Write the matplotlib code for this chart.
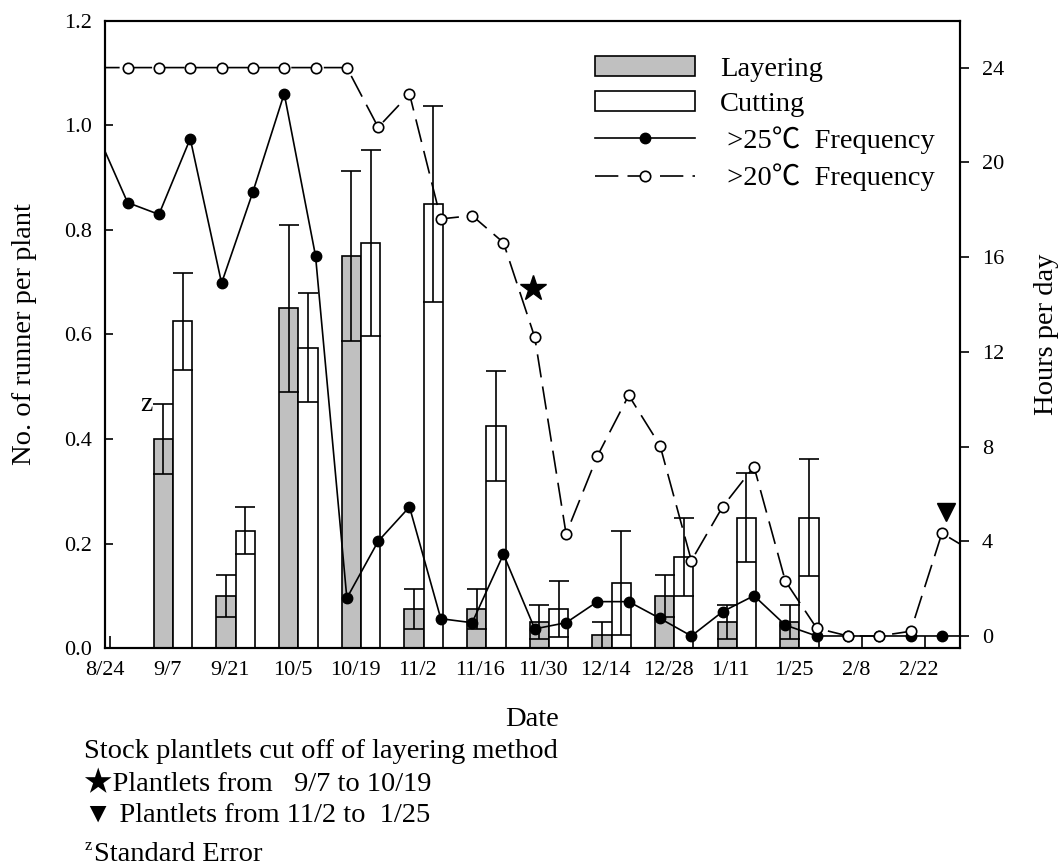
import matplotlib
matplotlib.use('Agg')
import matplotlib.pyplot as plt
from matplotlib.patches import Patch
from matplotlib.lines import Line2D

plt.rcParams['font.family'] = ['Liberation Serif', 'Noto Sans CJK SC', 'DejaVu Sans']

W, H = 1064, 868

# ---------------- data ----------------
date_labels = ['8/24', '9/7', '9/21', '10/5', '10/19', '11/2', '11/16', '11/30',
               '12/14', '12/28', '1/11', '1/25', '2/8', '2/22']
# bars (runners per plant), one pair per date from 9/7 to 2/22
bar_dates = date_labels[1:]
layering = [0.40, 0.10, 0.65, 0.75, 0.075, 0.075, 0.05, 0.025, 0.10, 0.05, 0.05, 0.0, 0.0]
layering_se = [0.067, 0.04, 0.16, 0.162, 0.038, 0.038, 0.033, 0.025, 0.04, 0.033, 0.033, 0.0, 0.0]
cutting = [0.625, 0.225, 0.575, 0.775, 0.85, 0.425, 0.075, 0.125, 0.175, 0.25, 0.25, 0.0, 0.0]
cutting_se = [0.093, 0.045, 0.105, 0.177, 0.187, 0.106, 0.053, 0.10, 0.075, 0.085, 0.112, 0.0, 0.0]

# weekly temperature frequencies (hours per day), week 0 = 8/24
week = list(range(29))
freq25 = [21.3, 18.3, 17.8, 21.0, 14.9, 18.75, 22.9, 16.05, 1.6, 4.0, 5.45, 0.73, 0.56,
          3.45, 0.3, 0.56, 1.45, 1.45, 0.74, 0.0, 1.03, 1.7, 0.46, 0.0, 0.0, 0.0, 0.0,
          0.0, 0.0]
freq20 = [24, 24, 24, 24, 24, 24, 24, 24, 24, 21.48, 22.89, 17.61, 17.75, 16.61, 12.61,
          4.31, 7.6, 10.16, 8.04, 3.18, 5.46, 7.15, 2.32, 0.33, 0.0, 0.0, 0.2, 4.34, 3.55]

# annotation markers
star_pt = (13.95, 14.68)
tri_pt = (27.12, 5.22)

# ---------------- figure ----------------
fig = plt.figure(figsize=(W / 100, H / 100), dpi=100)
L, R, T, B = 104.5, 960.4, 20.7, 648.3
XMIN, XMAX = 0.4534, 27.59
ax = fig.add_axes([L / W, 1 - B / H, (R - L) / W, (B - T) / H])
ax2 = ax.twinx()

unit_px = (R - L) / (XMAX - XMIN)
bw = 0.615
off = -0.163
bar_week = [2 * (i + 1) for i in range(len(bar_dates))]
lx = [x + off + bw / 2 for x in bar_week]
cx = [x + off + 1.5 * bw for x in bar_week]

ax.bar(lx, layering, width=bw, color='#c0c0c0', edgecolor='black', linewidth=1.2, zorder=2)
ax.bar(cx, cutting, width=bw, color='white', edgecolor='black', linewidth=1.2, zorder=2)

cap = bw * unit_px / 2 * 72 / 100
for xs, ys, es in ((lx, layering, layering_se), (cx, cutting, cutting_se)):
    sel = [i for i in range(len(ys)) if ys[i] > 0]
    ax.errorbar([xs[i] for i in sel], [ys[i] for i in sel], yerr=[es[i] for i in sel],
                fmt='none', ecolor='black', elinewidth=1.2, capsize=cap, capthick=1.2, zorder=3)

ax.text(lx[0] - bw / 2 - 0.03, layering[0] + layering_se[0], 'z', ha='right', va='center',
        fontsize=20)

ax2.plot(week, freq25, color='black', lw=1.2, marker='o', ms=7.5, mfc='black', mec='black',
         zorder=3)
ax2.plot(week, freq20, color='black', lw=1.2, ls=(0, (14, 5.5)), marker='o', ms=7.5,
         mfc='white', mec='black', mew=1.2, zorder=4)
ax2.plot([star_pt[0]], [star_pt[1]], marker='*', ms=19, color='black', ls='none', zorder=5)
ax2.plot([tri_pt[0]], [tri_pt[1]], marker='v', ms=13, color='black', ls='none', zorder=5)

ax.set_xlim(XMIN, XMAX)
ax.set_ylim(0, 1.2)
ax2.set_ylim(-0.52, 25.98)

ax.set_yticks([0, 0.2, 0.4, 0.6, 0.8, 1.0, 1.2])
ax.set_yticklabels(['0.0', '0.2', '0.4', '0.6', '0.8', '1.0', '1.2'])
ax.tick_params(axis='y', direction='in', length=6, width=1.2, labelsize=16, pad=9)
ax2.set_yticks(list(range(0, 25, 4)))
ax2.tick_params(axis='y', direction='out', length=6.5, width=1.2, labelsize=16, pad=9)

label_week = [2 * i for i in range(len(date_labels))]
ax.set_xticks([w + 0.452 for w in label_week])
ax.set_xticklabels([''] * len(label_week))
ax.tick_params(axis='x', which='major', direction='in', length=8.4, width=1.2)
ax.set_xticks([w + 0.262 for w in label_week], minor=True)
ax.set_xticklabels(date_labels, minor=True)
ax.tick_params(axis='x', which='minor', length=0, labelsize=16, pad=9)

for a in (ax, ax2):
    for s in a.spines.values():
        s.set_linewidth(1.5)

ax.set_ylabel('No. of runner per plant', fontsize=20.5, va='center')
ax.yaxis.set_label_coords((24 - L) / (R - L), 0.5)
ax2.set_ylabel('Hours per day', fontsize=20.5, rotation=90, va='center')
ax2.yaxis.set_label_coords((1047 - L) / (R - L), 0.5)
ax.set_xlabel('Date', fontsize=20.5, va='baseline')
ax.xaxis.set_label_coords(0.5, (B - 726) / (B - T))

handles = [
    Patch(facecolor='#c0c0c0', edgecolor='black', linewidth=1.2),
    Patch(facecolor='white', edgecolor='black', linewidth=1.2),
    Line2D([], [], color='black', lw=1.2, marker='o', ms=7.5, mfc='black'),
    Line2D([], [], color='black', lw=1.2, ls=(0, (14, 5.5)), marker='o', ms=7.5,
           mfc='white', mew=1.2),
]
labels = ['Layering', 'Cutting', ' >25\u2103  Frequency', ' >20\u2103  Frequency']
fig.legend(handles, labels, loc='upper left', bbox_to_anchor=(595 / W, 1 - 56 / H),
           frameon=False, fontsize=20.5, handlelength=3.5, handleheight=0.7,
           handletextpad=0.88, labelspacing=0.33, borderpad=0, borderaxespad=0,
           numpoints=1)

tx = 84 / W
fig.text(tx, 1 - 758 / H, 'Stock plantlets cut off of layering method', fontsize=20.5,
         va='baseline')
fig.text(tx, 1 - 791 / H, '\u2605Plantlets from   9/7 to 10/19', fontsize=20.5, va='baseline')
fig.text(tx, 1 - 822 / H, '\u25bc Plantlets from 11/2 to  1/25', fontsize=20.5, va='baseline')
fig.text(85 / W, 1 - 850 / H, 'z', fontsize=12, va='baseline')
fig.text(93.5 / W, 1 - 861 / H, 'Standard Error', fontsize=20.5, va='baseline')

fig.savefig('out.png', dpi=100)
